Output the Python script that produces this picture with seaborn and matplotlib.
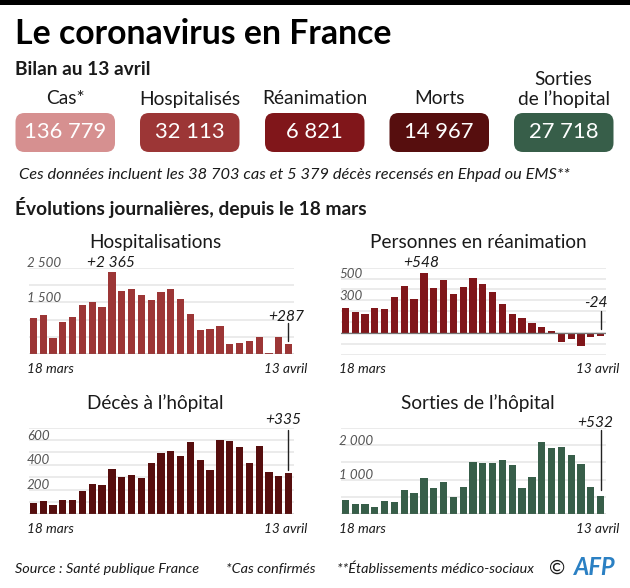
"""Le coronavirus en France, infographic rebuilt with seaborn."""

import matplotlib
matplotlib.use("Agg")
import matplotlib.pyplot as plt
import pandas as pd
import seaborn as sns
from matplotlib.patches import FancyBboxPatch, Rectangle

W, H = 630, 588

days = [f"{d} mars" for d in range(18, 32)] + [f"{d} avril" for d in range(1, 14)]

hospitalisations = [1038, 1135, 462, 942, 1067, 1423, 1500, 1356, 2365, 1817, 1885, 1721, 1577, 1798,
                    1875, 1596, 1173, 702, 740, 827, 298, 337, 385, 490, 48, 500, 287]
reanimation = [233, 190, 175, 227, 221, 334, 432, 310, 548, 411, 485, 359, 423, 509,
               451, 380, 264, 178, 141, 95, 58, 18, -80, -58, -117, -34, -24]
deces = [89, 108, 78, 113, 113, 186, 243, 234, 364, 299, 321, 291, 418, 499,
         509, 472, 588, 442, 356, 604, 596, 542, 412, 555, 345, 310, 335]
sorties = [404, 298, 288, 221, 385, 365, 711, 615, 1048, 750, 923, 510, 788, 1519,
           1490, 1490, 1577, 1423, 750, 1067, 2077, 1913, 1952, 1721, 1452, 788, 532]

box_labels = ["Cas*", "Hospitalisés", "Réanimation", "Morts", "Sorties\nde l’hopital"]
box_values = ["136 779", "32 113", "6 821", "14 967", "27 718"]
box_colors = ["#d69090", "#9c3636", "#80161a", "#560e0e", "#375e49"]
box_left = [15.5, 140, 265, 389.5, 514]

sns.set_theme(style="white")
plt.rcParams["font.family"] = ["Lato", "DejaVu Sans"]

fig = plt.figure(figsize=(W / 100, H / 100), dpi=100, facecolor="white")

# overlay in pixel coordinates for everything that is not a bar
ov = fig.add_axes([0, 0, 1, 1], zorder=5)
ov.set_xlim(0, W)
ov.set_ylim(H, 0)
ov.axis("off")
ov.patch.set_alpha(0)


def txt(x, y, s, size=12.5, ha="left", color="#1a1a1a", **kw):
    ov.text(x, y + 1, s, fontsize=size, ha=ha, va="center", color=color, **kw)


ov.add_patch(Rectangle((0, 0), W, 5, color="black", lw=0))
txt(15, 33, "Le coronavirus en France", size=24.3, weight="bold", color="black")
txt(15, 68.5, "Bilan au 13 avril", size=13.8, weight="bold")

for left, label, value, colour in zip(box_left, box_labels, box_values, box_colors):
    ov.add_patch(FancyBboxPatch((left, 113), 99.5, 39, boxstyle="round,pad=0,rounding_size=9",
                                facecolor=colour, edgecolor="none", lw=0))
    if "\n" in label:
        first, second = label.split("\n")
        txt(left + 49.5, 78.5, first, ha="center", size=13.8)
        txt(left + 49.5, 98, second, ha="center", size=13.8)
    else:
        txt(left + 49.5, 98, label, ha="center", size=13.8)
    txt(left + 49.5, 131, value, ha="center", size=15.8, color="white")

txt(19, 174, "Ces données incluent les 38 703 cas et 5 379 décès recensés en Ehpad ou EMS**",
    size=11.75, style="italic")
txt(15, 207, "Évolutions journalières, depuis le 18 mars", size=13.8, weight="bold")

panels = [
    dict(title="Hospitalisations", values=hospitalisations, color="#9c3636", ymin=0, ymax=2500, step=500,
         labels={1500: "1 500", 2500: "2 500"}, left=28.5, top=267.7, bottom=354.3,
         notes=[("+2 365", 111, 262), ("+287", 286, 316)], leader=(287.7, 323, 341)),
    dict(title="Personnes en réanimation", values=reanimation, color="#80161a", ymin=-200, ymax=600, step=100,
         labels={300: "300", 500: "500"}, left=340.5, top=267.7, bottom=354.7,
         notes=[("+548", 421.7, 262), ("-24", 596, 302)], leader=(600.7, 311, 329)),
    dict(title="Décès à l’hôpital", values=deces, color="#560e0e", ymin=0, ymax=700, step=100,
         labels={200: "200", 400: "400", 600: "600"}, left=28.5, top=427.7, bottom=514.3,
         notes=[("+335", 283.5, 419)], leader=(287.7, 430, 470)),
    dict(title="Sorties de l’hôpital", values=sorties, color="#375e49", ymin=0, ymax=2500, step=500,
         labels={1000: "1 000", 2000: "2 000"}, left=340.5, top=427.7, bottom=514.3,
         notes=[("+532", 595, 421.7)], leader=(600.7, 430, 490)),
]

for p in panels:
    ax = fig.add_axes([p["left"] / W, 1 - p["bottom"] / H, 265 / W, (p["bottom"] - p["top"]) / H])
    frame = pd.DataFrame({"day": days, "value": p["values"]})
    sns.barplot(data=frame, x="day", y="value", color=p["color"], width=0.74, saturation=1,
                linewidth=0, ax=ax, zorder=3)
    ax.set_xlim(-0.5, 26.5)
    ax.set_ylim(p["ymin"], p["ymax"])
    ax.set_xlabel("")
    ax.set_ylabel("")
    ax.set_xticks([])
    ax.set_yticks(range(p["ymin"], p["ymax"] + 1, p["step"]))
    ax.set_yticklabels([])
    ax.tick_params(length=0)
    ax.grid(axis="y", color="#e6e6e6", lw=1.1)
    ax.set_axisbelow(True)
    sns.despine(ax=ax, left=True, bottom=True)
    ax.axhline(0, color="#777777", lw=0.9, zorder=4)

    # tick labels sit just above their gridlines
    span = p["bottom"] - p["top"]
    for v, lab in p["labels"].items():
        ypx = p["bottom"] - (v - p["ymin"]) / (p["ymax"] - p["ymin"]) * span
        txt(p["left"] - 1.5, ypx - 5.5, lab, size=9.6, style="italic", color="#555555")

    centre = p["left"] + 132.5 - (6 if p["left"] < 100 else -5)
    txt(centre, p["top"] - 26, p["title"], ha="center", size=13.7)
    for s, x, y in p["notes"]:
        txt(x, y, s, ha="center", size=11.2, style="italic")
    lx, y0, y1 = p["leader"]
    ov.plot([lx, lx], [y0, y1], color="#222222", lw=1)
    txt(p["left"] - 1.5, p["bottom"] + 13.5, "18 mars", size=9.8, style="italic")
    txt(p["left"] + 278.5, p["bottom"] + 13.5, "13 avril", size=9.8, ha="right", style="italic")

txt(15, 568, "Source : Santé publique France", size=10.4, style="italic")
txt(226, 568, "*Cas confirmés", size=10.4, style="italic")
txt(337, 568, "**Établissements médico-sociaux", size=10.4, style="italic")
txt(549, 567, "©", size=14)
txt(574, 566.5, "AFP", size=17, weight="bold", style="italic", color="#2b80c3")

fig.savefig("out.png", dpi=100)
